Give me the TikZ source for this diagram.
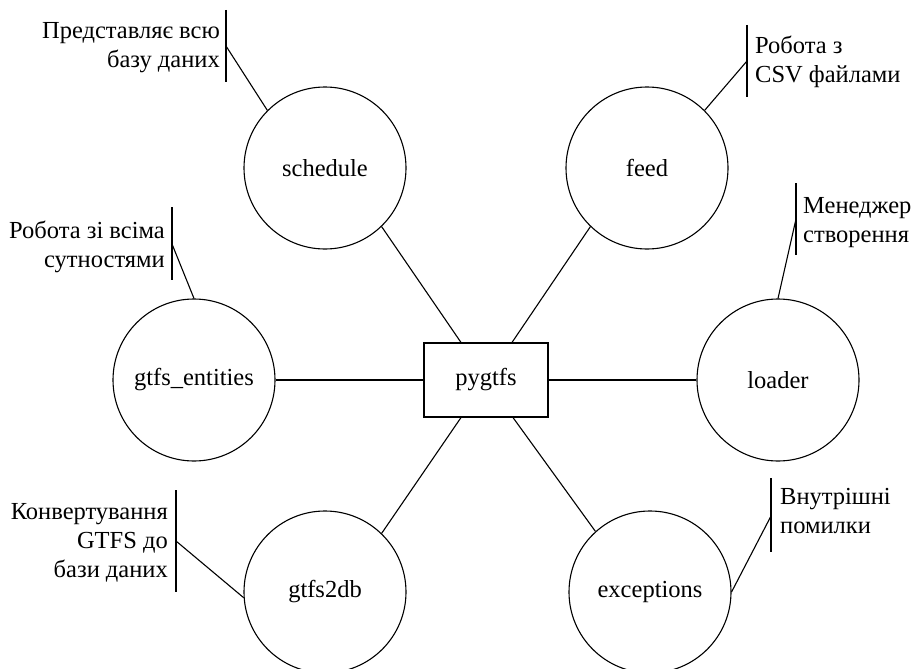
\documentclass[tikz,border=0pt]{standalone}
\usepackage{fontspec}
\setmainfont{Liberation Serif}
\usetikzlibrary{calc}
\begin{document}
\begin{tikzpicture}[x=1pt,y=-1pt,
  every node/.style={font=\fontsize{24.5}{29}\selectfont},
  module/.style={circle, draw, line width=1.1pt, minimum size=162pt, inner sep=0pt},
  core/.style={draw, line width=1.1pt, minimum width=124pt, minimum height=74pt, inner sep=0pt},
  link/.style={line width=1.1pt},
  bar/.style={line width=1.6pt},
  notel/.style={align=left, anchor=base west, inner sep=0pt},
  noter/.style={align=right, anchor=base east, inner sep=0pt}]
\useasboundingbox (0,0) rectangle (916,669);

% central package and its modules
\node[core] (pyg) at (486,380) {pygtfs};
\node[module] (sched) at (325,168) {schedule};
\node[module] (feed)  at (647,168) {feed};
\node[module] (ent)   at (194,380) {gtfs\_entities};
\node[module] (load)  at (778,380) {loader};
\node[module] (g2db)  at (325,592) {gtfs2db};
\node[module] (exc)   at (650,592) {exceptions};

% connectors from the package to its modules
\draw[link] (sched.-46) -- ($(pyg.north)+(-25,0)$);
\draw[link] (feed.-134) -- ($(pyg.north)+(26,0)$);
\draw[link] (ent.east) -- (pyg.west);
\draw[link] (load.west) -- (pyg.east);
\draw[link] (g2db.46) -- ($(pyg.south)+(-25,0)$);
\draw[link] (exc.132) -- ($(pyg.south)+(27,0)$);

% annotations: text (placed by the baseline of its last line),
% bracket bar and leader line
\node[noter] (nS) at (220,68) {Представляє всю\\базу даних};
\coordinate (bS) at (226,46);
\draw[bar] (226,10) -- (226,82);
\draw[link] (bS) -- (sched.135);

\node[notel] (nF) at (755,83) {Робота з\\CSV файлами};
\coordinate (bF) at (747,61);
\draw[bar] (747,25) -- (747,97);
\draw[link] (bF) -- (feed.45);

\node[noter] (nE) at (165,267) {Робота зі всіма\\сутностями};
\coordinate (bE) at (172,244);
\draw[bar] (172,207) -- (172,280);
\draw[link] (bE) -- (ent.north);

\node[notel] (nL) at (803,242) {Менеджер\\створення};
\coordinate (bL) at (796,219);
\draw[bar] (796,183) -- (796,255);
\draw[link] (bL) -- (load.north);

\node[noter] (nG) at (168,577) {Конвертування\\GTFS до\\бази даних};
\coordinate (bG) at (176,541);
\draw[bar] (176,490) -- (176,592);
\draw[link] (bG) -- (g2db.184);

\node[notel] (nX) at (780,533) {Внутрішні\\помилки};
\coordinate (bX) at (771,516);
\draw[bar] (771,478) -- (771,552);
\draw[link] (bX) -- (exc.east);
\end{tikzpicture}
\end{document}
